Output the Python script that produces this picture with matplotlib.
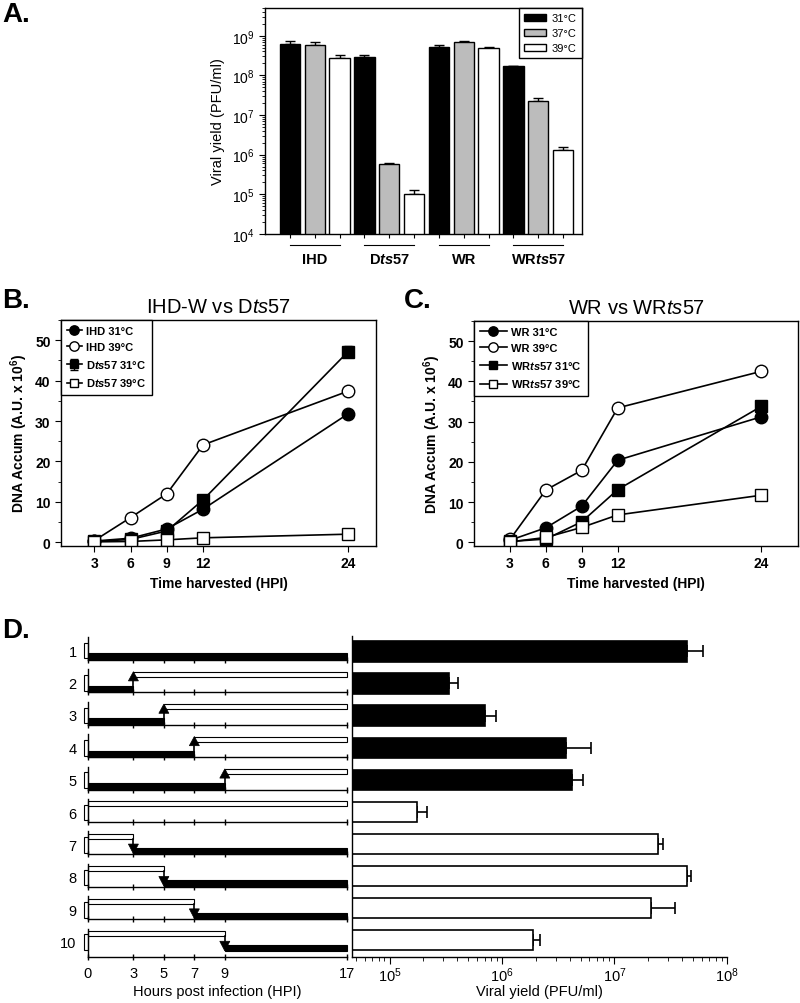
import matplotlib
matplotlib.use('Agg')
import matplotlib.pyplot as plt
import numpy as np
from matplotlib.patches import Rectangle, Polygon
from matplotlib.ticker import LogLocator, NullFormatter, MultipleLocator

plt.rcParams['font.family'] = ['Liberation Sans', 'DejaVu Sans']
plt.rcParams['mathtext.fontset'] = 'custom'
plt.rcParams['mathtext.rm'] = 'Liberation Sans'
plt.rcParams['mathtext.it'] = 'Liberation Sans:italic'
plt.rcParams['mathtext.bf'] = 'Liberation Sans:bold'
plt.rcParams['mathtext.bfit'] = 'Liberation Sans:bold:italic'

# ---------------- data ----------------
# Panel A
strains_A = ['IHD', r'D$\mathbfit{ts}$57', 'WR', r'WR$\mathbfit{ts}$57']
temps_A = ['31°C', '37°C', '39°C']
yield_31 = [6.3e8, 2.9e8, 5.2e8, 1.7e8]
yield_37 = [6.0e8, 5.7e5, 7.0e8, 2.2e7]
yield_39 = [2.7e8, 1.0e5, 5.0e8, 1.3e6]
err_31 = [0.9e8, 0.35e8, 0.7e8, 0.06e8]
err_37 = [0.8e8, 0.3e5, 0.25e8, 0.5e7]
err_39 = [0.5e8, 0.3e5, 0.3e8, 0.3e6]

# Panel B / C
hpi = [3, 6, 9, 12, 24]
ihd_31 = [0.3, 1.0, 3.3, 8.2, 31.8]
ihd_39 = [0.4, 6.1, 12.0, 24.1, 37.4]
dts57_31 = [0.2, 0.7, 2.8, 10.5, 47.2]
dts57_31_err = [0, 0, 0, 0, 1.4]
dts57_39 = [0.1, 0.2, 0.6, 1.1, 2.0]

wr_31 = [0.5, 3.6, 9.0, 20.4, 31.2]
wr_39 = [0.7, 13.0, 17.9, 33.4, 42.5]
wrts57_31 = [0.2, 0.8, 5.1, 13.1, 33.8]
wrts57_39 = [0.1, 1.2, 3.7, 6.8, 11.7]

# Panel D
rows_D = [str(i) for i in range(1, 11)]
start_temp = [31, 31, 31, 31, 31, 39, 39, 39, 39, 39]
shift_time = [None, 3, 5, 7, 9, None, 3, 5, 7, 9]
hour_ticks = [0, 3, 5, 7, 9, 17]
end_hour = 17
yield_D = [4.4e7, 3.4e5, 7.1e5, 3.7e6, 4.2e6, 1.74e5, 2.46e7, 4.4e7, 2.1e7, 1.9e6]
err_D = [1.8e7, 0.7e5, 1.8e5, 2.45e6, 1.1e6, 0.43e5, 0.24e7, 0.4e7, 1.4e7, 0.29e6]

# ---------------- figure ----------------
W, H = 800, 1004
fig = plt.figure(figsize=(8, 10.04), dpi=100)


def axes_px(x0, y0, x1, y1):
    return fig.add_axes([x0 / W, 1 - y1 / H, (x1 - x0) / W, (y1 - y0) / H])


def letter(x, y, s):
    fig.text(x / W, 1 - y / H, s, fontsize=20, fontweight='bold', va='top', ha='left')


# ---------------- Panel A ----------------
axA = axes_px(265, 9, 582, 235)
axA.set_yscale('log')
series_A = [(yield_31, err_31, 'black'), (yield_37, err_37, '#bcbcbc'), (yield_39, err_39, 'white')]
n_t = len(series_A)
for j, (vals, errs, col) in enumerate(series_A):
    x = np.arange(len(strains_A)) * n_t + j
    axA.bar(x, vals, width=0.82, color=col, edgecolor='black', linewidth=1,
            label=temps_A[j], zorder=2)
    axA.errorbar(x, vals, yerr=[np.zeros(len(vals)), errs], fmt='none', ecolor='black',
                 elinewidth=1, capsize=3.5, capthick=1, zorder=1)
axA.set_ylim(1e4, 5e9)
axA.set_xlim(-1, len(strains_A) * n_t - 0.24)
axA.set_xticks(np.arange(len(strains_A) * n_t))
axA.tick_params(axis='x', length=3, labelbottom=False)
axA.yaxis.set_major_locator(LogLocator(base=10, numticks=10))
axA.yaxis.set_minor_locator(LogLocator(base=10, subs=np.arange(2, 10), numticks=10))
axA.yaxis.set_minor_formatter(NullFormatter())
axA.tick_params(axis='y', which='major', length=4, labelsize=10)
axA.tick_params(axis='y', which='minor', length=2)
axA.set_ylabel('Viral yield (PFU/ml)', fontsize=10.5, labelpad=5)
for i, s in enumerate(strains_A):
    axA.plot([i * n_t, i * n_t + n_t - 1], [-0.05, -0.05], transform=axA.get_xaxis_transform(),
             clip_on=False, color='black', lw=0.8)
    axA.text(i * n_t + (n_t - 1) / 2, -0.11, s, transform=axA.get_xaxis_transform(),
             ha='center', va='center', fontsize=10.5, fontweight='bold')
legA = axA.legend(loc='upper right', borderaxespad=0, fancybox=False, edgecolor='black',
                  framealpha=1, fontsize=8, handlelength=2.0, handleheight=0.6,
                  labelspacing=0.45, borderpad=0.45, handletextpad=0.5)
legA.get_frame().set_linewidth(1)
for sp in axA.spines.values():
    sp.set_linewidth(1)
letter(2, 2, 'A.')


# ---------------- Panels B, C ----------------
def line_panel(ax, series, title, xlim, handlelength):
    for vals, errs, marker, face, label in series:
        ms = 9 if marker == 'o' else 8.5
        ax.errorbar(hpi, vals, yerr=errs, color='black', lw=1.2, marker=marker, ms=ms,
                    mfc=face, mec='black', mew=1, label=label, capsize=3, elinewidth=1)
    ax.set_xlim(*xlim)
    ax.set_ylim(-0.85, 55)
    ax.set_xticks(hpi)
    ax.yaxis.set_major_locator(MultipleLocator(10))
    ax.yaxis.set_minor_locator(MultipleLocator(5))
    ax.tick_params(axis='both', which='major', length=4, labelsize=10)
    ax.tick_params(axis='y', which='minor', length=2)
    for lab in ax.get_xticklabels() + ax.get_yticklabels():
        lab.set_fontweight('bold')
    ax.set_xlabel('Time harvested (HPI)', fontsize=10, fontweight='bold')
    ax.set_ylabel(r'DNA Accum (A.U. x 10$^{\mathbf{6}}$)', fontsize=10, fontweight='bold')
    ax.set_title(title, fontsize=14.5, pad=6)
    leg = ax.legend(loc='upper left', borderaxespad=0, fancybox=False, edgecolor='black',
                    framealpha=1, prop={'weight': 'bold', 'size': 8}, handlelength=handlelength,
                    markerscale=0.75, labelspacing=0.55, borderpad=0.55, handletextpad=0.4)
    leg.get_frame().set_linewidth(1)
    for sp in ax.spines.values():
        sp.set_linewidth(1)


axB = axes_px(61, 321, 376, 546.7)
line_panel(axB, [
    (ihd_31, None, 'o', 'black', 'IHD 31°C'),
    (ihd_39, None, 'o', 'white', 'IHD 39°C'),
    (dts57_31, dts57_31_err, 's', 'black', r'D$\mathbfit{ts}$57 31°C'),
    (dts57_39, None, 's', 'white', r'D$\mathbfit{ts}$57 39°C'),
], r'IHD-W vs D$\mathit{ts}$57', (0.25, 26.3), 1.3)
letter(2, 288, 'B.')

axC = axes_px(474, 322, 798, 546.7)
line_panel(axC, [
    (wr_31, None, 'o', 'black', 'WR 31°C'),
    (wr_39, None, 'o', 'white', 'WR 39°C'),
    (wrts57_31, None, 's', 'black', r'WR$\mathbfit{ts}$57 31°C'),
    (wrts57_39, None, 's', 'white', r'WR$\mathbfit{ts}$57 39°C'),
], r'WR vs WR$\mathit{ts}$57', (0.0, 27.05), 2.4)
letter(404, 288, 'C.')

# ---------------- Panel D (left: temperature-shift schedule) ----------------
row_h = 23.0
lo_bar = (0.03, 0.29)
hi_bar = (0.68, 0.90)
tri_w = 0.33
for k in range(len(rows_D)):
    base = 661 + 32.4 * k
    extra = 5.5 if k == len(rows_D) - 1 else 0
    ax = axes_px(87.7, base - row_h, 346.7, base + extra)
    ax.set_xlim(0, end_hour)
    ax.set_ylim(-extra / row_h, 1)
    for side in ('top', 'right'):
        ax.spines[side].set_visible(False)
    ax.spines['left'].set_linewidth(1)
    ax.spines['bottom'].set_linewidth(1)
    ax.set_xticks(hour_ticks)
    ax.tick_params(axis='x', direction='inout', length=5, width=1,
                   labelbottom=(k == len(rows_D) - 1), labelsize=10.5, pad=4)
    ax.set_yticks([0.43])
    ax.set_yticklabels([rows_D[k]])
    ax.tick_params(axis='y', length=0, pad=8, labelsize=10.5)
    ax.add_patch(Rectangle((-0.22, 0.07), 0.22, 0.68, facecolor='white', edgecolor='black',
                           lw=0.8, clip_on=False))
    t = shift_time[k]
    first_end = end_hour if t is None else t
    lo_h = lo_bar[1] - lo_bar[0]
    hi_h = hi_bar[1] - hi_bar[0]
    if start_temp[k] == 31:
        ax.barh(lo_bar[0] + lo_h / 2, first_end, left=0, height=lo_h, color='black',
                edgecolor='black', lw=0.8, clip_on=False)
        if t is not None:
            ax.barh(hi_bar[0] + hi_h / 2, end_hour - t, left=t, height=hi_h, color='white',
                    edgecolor='black', lw=0.8, clip_on=False)
            ax.plot([t, t], [lo_bar[1], 0.5], color='black', lw=1.2)
            ax.add_patch(Polygon([(t - tri_w, 0.5), (t + tri_w, 0.5), (t, hi_bar[1])],
                                 closed=True, facecolor='black', edgecolor='black', lw=0.5,
                                 zorder=3))
    else:
        ax.barh(hi_bar[0] + hi_h / 2, first_end, left=0, height=hi_h, color='white',
                edgecolor='black', lw=0.8, clip_on=False)
        if t is not None:
            ax.barh(lo_bar[0] + lo_h / 2, end_hour - t, left=t, height=lo_h, color='black',
                    edgecolor='black', lw=0.8, clip_on=False)
            ax.plot([t, t], [hi_bar[0], 0.45], color='black', lw=1.2)
            ax.add_patch(Polygon([(t - tri_w, 0.45), (t + tri_w, 0.45), (t, lo_bar[0])],
                                 closed=True, facecolor='black', edgecolor='black', lw=0.5,
                                 zorder=3))
    if k == len(rows_D) - 1:
        ax.set_xlabel('Hours post infection (HPI)', fontsize=10.5, labelpad=3)
letter(2, 618, 'D.')

# ---------------- Panel D (right: viral yield) ----------------
axD = axes_px(351.7, 636.7, 726.7, 958.3)
axD.set_xscale('log')
ypos = np.arange(len(rows_D))
colors_D = ['black' if s == 31 else 'white' for s in start_temp]
axD.barh(ypos, yield_D, height=0.63, color=colors_D, edgecolor='black', lw=1.2, zorder=2)
axD.errorbar(yield_D, ypos, xerr=[np.zeros(len(yield_D)), err_D], fmt='none', ecolor='black',
             elinewidth=1.2, capsize=4, capthick=1.2, zorder=1)
axD.set_xlim(4.6e4, 1e8)
axD.set_ylim(9.54, -0.49)
for side in ('top', 'right'):
    axD.spines[side].set_visible(False)
axD.spines['left'].set_linewidth(1)
axD.spines['bottom'].set_linewidth(1)
axD.tick_params(axis='y', left=False, labelleft=False)
axD.xaxis.set_major_locator(LogLocator(base=10, numticks=10))
axD.xaxis.set_minor_locator(LogLocator(base=10, subs=np.arange(2, 10), numticks=10))
axD.xaxis.set_minor_formatter(NullFormatter())
axD.tick_params(axis='x', which='major', length=5, labelsize=10.5, pad=1)
axD.tick_params(axis='x', which='minor', length=3)
axD.set_xlabel('Viral yield (PFU/ml)', fontsize=10.5, labelpad=0)

fig.savefig('out.png', dpi=100)
